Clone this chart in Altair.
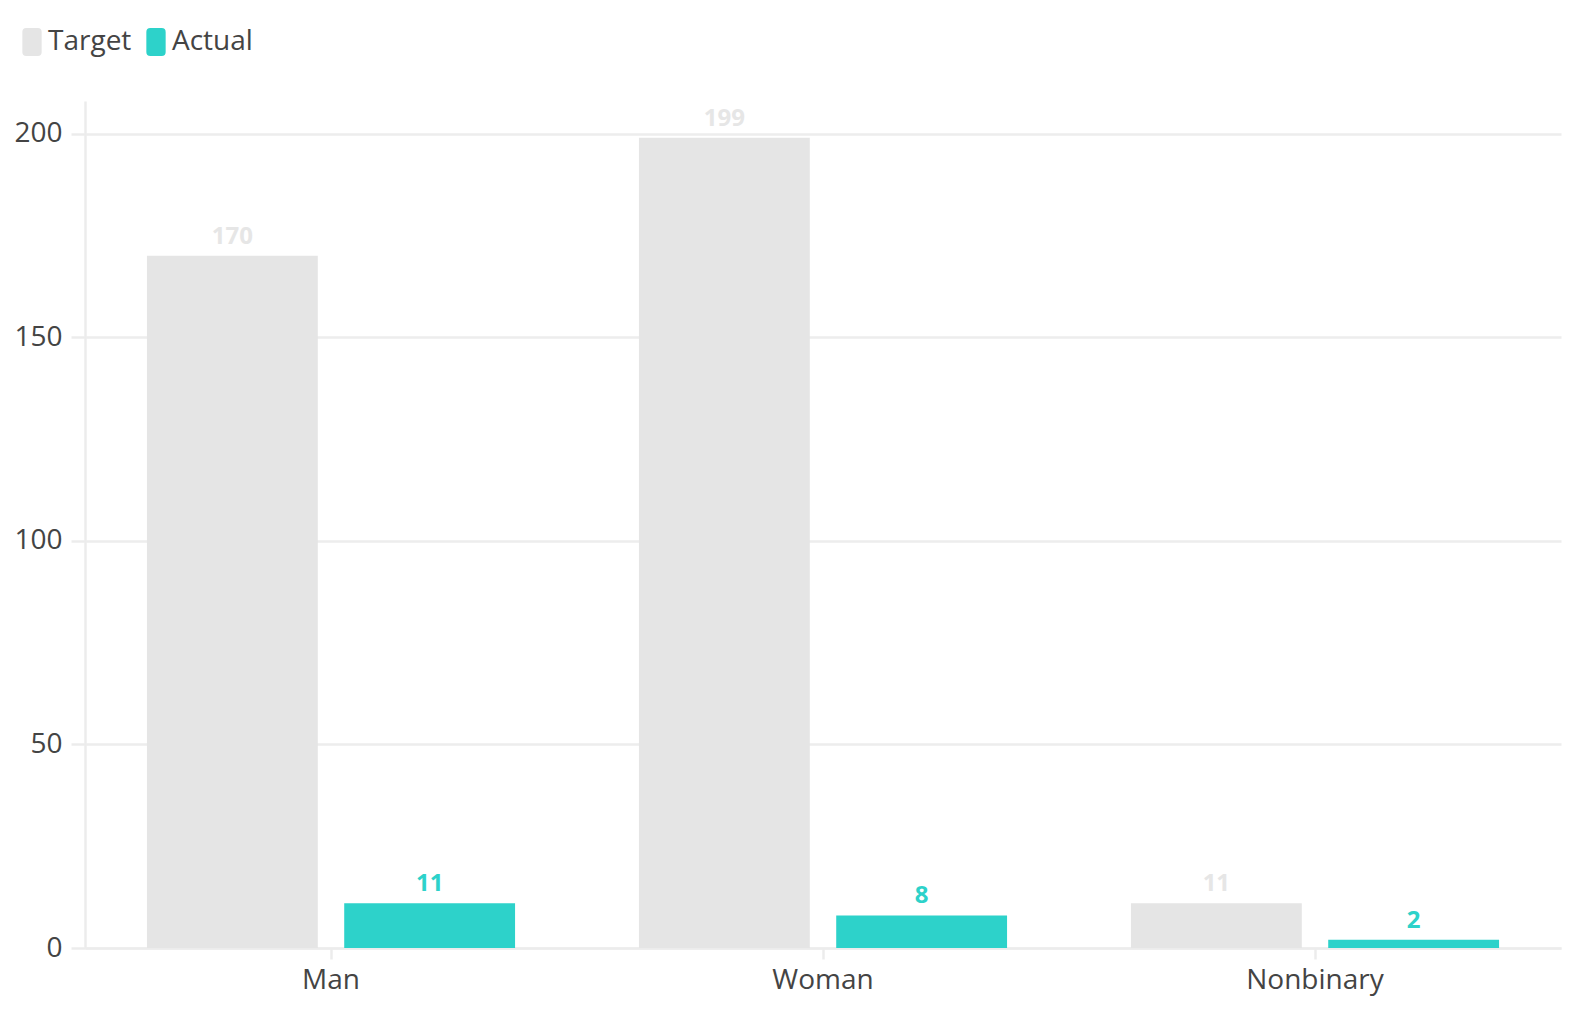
import altair as alt
import pandas as pd

categories = ["Man", "Woman", "Nonbinary"]
series = ["Target", "Actual"]
target_values = [170, 199, 11]
actual_values = [11, 8, 2]
y_ticks = [0, 50, 100, 150, 200]

rows = []
for cat, t, a in zip(categories, target_values, actual_values):
    rows.append({"gender": cat, "series": "Target", "value": t})
    rows.append({"gender": cat, "series": "Actual", "value": a})
df = pd.DataFrame(rows)

GRAY = "#e5e5e5"
TEAL = "#2dd2ca"
TEXT = "#444444"
FONT = "Open Sans"

# rounded rectangle for the legend swatch (path box is -1..1)
swatch = ("M-0.41,-1 L0.41,-1 Q0.69,-1 0.69,-0.72 L0.69,0.72 "
          "Q0.69,1 0.41,1 L-0.41,1 Q-0.69,1 -0.69,0.72 "
          "L-0.69,-0.72 Q-0.69,-1 -0.41,-1 Z")

base = alt.Chart(df).encode(
    x=alt.X("gender:N", sort=categories, title=None,
            scale=alt.Scale(paddingInner=0, paddingOuter=0),
            axis=alt.Axis(labelAngle=0, grid=False, tickSize=11, labelPadding=7)),
    xOffset=alt.XOffset("series:N", sort=series,
                        scale=alt.Scale(paddingInner=0.134, paddingOuter=0.314)),
    y=alt.Y("value:Q", title=None,
            scale=alt.Scale(domain=[0, 208], nice=False),
            axis=alt.Axis(values=y_ticks, tickSize=14, labelPadding=9)),
)

bars = base.mark_bar().encode(
    color=alt.Color("series:N", sort=series,
                    scale=alt.Scale(domain=series, range=[GRAY, TEAL]),
                    legend=alt.Legend(title=None, orient="none", direction="horizontal",
                                      legendX=-67, legendY=-73,
                                      symbolType=swatch, symbolSize=784,
                                      symbolStrokeWidth=0, symbolOpacity=1,
                                      labelFont=FONT, labelFontSize=28,
                                      labelColor=TEXT, labelOffset=2,
                                      columnPadding=10)),
)

labels = base.mark_text(baseline="bottom", dy=-7, font=FONT, fontSize=24,
                        fontWeight="bold").encode(
    text="value:Q",
    color=alt.condition(alt.datum.series == "Target",
                        alt.value("#e6e6e6"), alt.value(TEAL)),
)

chart = alt.layer(bars, labels).properties(
    width=1476,
    height=847,
    autosize=alt.AutoSizeParams(type="none"),
    padding={"left": 77, "top": 93, "right": 10, "bottom": 50},
).configure_view(
    stroke=None
).configure_axis(
    labelFont=FONT,
    labelFontSize=28,
    labelColor=TEXT,
    domainColor="#ececec",
    domainWidth=2.5,
    gridColor="#ededed",
    gridWidth=2.5,
    tickColor="#ececec",
    tickWidth=2.5,
)

chart.save("out.html", embed_options={"renderer": "svg", "actions": False})
